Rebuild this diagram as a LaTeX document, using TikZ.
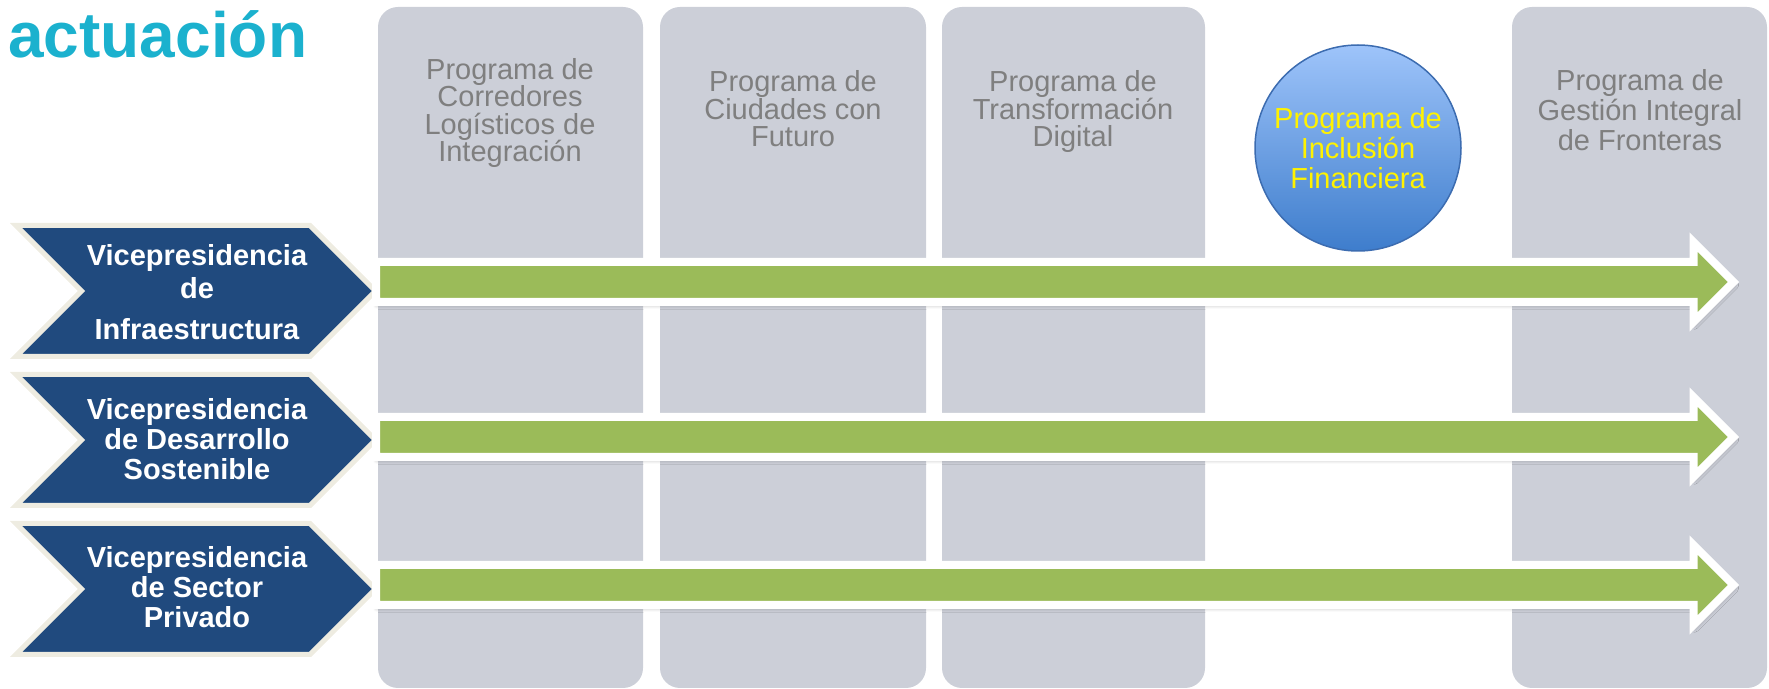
\documentclass[tikz,border=0pt]{standalone}
\usepackage{fontspec}
\setmainfont{Liberation Sans}
\usetikzlibrary{shadows.blur}

\definecolor{titrecyan}{RGB}{27,177,206}
\definecolor{colonnegris}{RGB}{204,207,216}
\definecolor{textegris}{RGB}{127,127,127}
\definecolor{vpbleu}{RGB}{32,74,126}
\definecolor{vpbord}{RGB}{238,236,225}
\definecolor{flechevert}{RGB}{155,187,89}
\definecolor{cerclehaut}{RGB}{158,196,250}
\definecolor{cerclebas}{RGB}{62,125,204}
\definecolor{cerclebord}{RGB}{60,108,176}

\begin{document}
\begin{tikzpicture}[x=0.5pt, y=-0.5pt,
    colonne/.style={fill=colonnegris, rounded corners=10pt},
    programme/.style={text=textegris, align=center, inner sep=0pt, font=\fontsize{14.5}{13.75}\selectfont},
    vp/.style={fill=vpbleu, draw=vpbord, line width=2.5pt, line join=miter},
    vptexte/.style={text=white, align=center, inner sep=0pt, font=\bfseries\fontsize{14.5}{15}\selectfont},
    fleche/.style={fill=flechevert, draw=white, line width=4pt, line join=miter,
        blur shadow={shadow xshift=0.5pt, shadow yshift=-1.5pt, shadow blur steps=6, shadow opacity=30}}]
    \useasboundingbox (0,0) rectangle (1769,689);

    % Titre
    \node[anchor=base west, inner sep=0pt, text=titrecyan, font=\bfseries\fontsize{32}{38}\selectfont] (titre) at (8,58) {actuación};

    % Colonnes des programmes
    \fill[colonne] (378,7) rectangle (643,688);
    \fill[colonne] (660,7) rectangle (926,688);
    \fill[colonne] (942,7) rectangle (1205,688);
    \fill[colonne] (1512,7) rectangle (1767,688);

    % Noms des programmes
    \node[programme] (corredores) at (510,113) {Programa de\\ Corredores\\ Logísticos de\\ Integración};
    \node[programme] (ciudades) at (793,109) {Programa de\\ Ciudades con\\ Futuro};
    \node[programme] (digital) at (1073,112) {Programa de\\ Transformación\\ Digital};
    \node[programme, font=\fontsize{14.5}{15}\selectfont] (fronteras) at (1640,110.5) {Programa de\\ Gestión Integral\\ de Fronteras};

    % Programme en cercle
    \node[circle, minimum size=103pt, inner sep=0pt, top color=cerclehaut, bottom color=cerclebas,
        draw=cerclebord, line width=0.75pt, text=yellow, align=center,
        font=\fontsize{14.5}{15}\selectfont] (inclusion) at (1358,148) {Programa de\\ Inclusión\\ Financiera};

    % Vice-présidences
    \draw[vp] (16,225.5) -- (310,225.5) -- (375.5,291) -- (310,356.5) -- (16,356.5) -- (81.5,291) -- cycle;
    \draw[vp] (16,374.5) -- (310,374.5) -- (375.5,440) -- (310,505.5) -- (16,505.5) -- (81.5,440) -- cycle;
    \draw[vp] (16,523.5) -- (310,523.5) -- (375.5,589) -- (310,654.5) -- (16,654.5) -- (81.5,589) -- cycle;

    \node[vptexte] (infra) at (197,292) {Vicepresidencia\\[1.7pt] de\\[5.5pt] Infraestructura};
    \node[vptexte] (desarrollo) at (197,439) {Vicepresidencia\\ de Desarrollo\\ Sostenible};
    \node[vptexte] (privado) at (197,587.5) {Vicepresidencia\\ de Sector\\ Privado};

    % Flèches vertes
    \draw[fleche] (376,262) -- (1693.5,262) -- (1693.5,242) -- (1733.5,282) -- (1693.5,322) -- (1693.5,302) -- (376,302) -- cycle;
    \draw[fleche] (376,417) -- (1693.5,417) -- (1693.5,397) -- (1733.5,437) -- (1693.5,477) -- (1693.5,457) -- (376,457) -- cycle;
    \draw[fleche] (376,565) -- (1693.5,565) -- (1693.5,545) -- (1733.5,585) -- (1693.5,625) -- (1693.5,605) -- (376,605) -- cycle;
\end{tikzpicture}
\end{document}
